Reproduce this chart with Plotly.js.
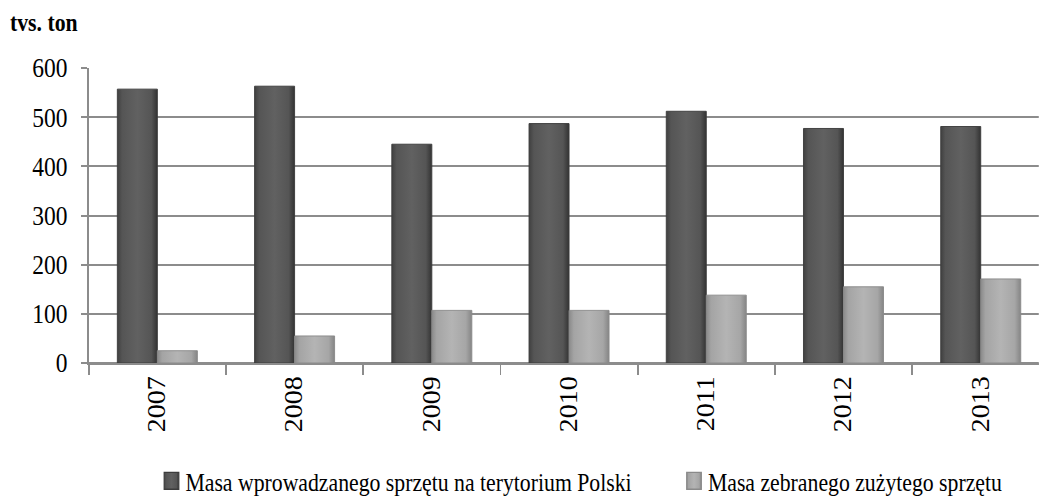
<!DOCTYPE html>
<html>
<head>
<meta charset="utf-8">
<script src="https://cdn.plot.ly/plotly-3.0.1.min.js"></script>
<style>
  html, body { margin: 0; padding: 0; background: #fff; overflow: hidden; }
  #wrap { width: 1039px; height: 498px; overflow: hidden; position: relative; }
  #chart { width: 1194px; height: 498px; transform: scaleX(0.87); transform-origin: 0 0; }
  #chart .legendpoints path { transform: translate(24px, 0) scale(1.4); }
  #chart .barlayer .trace:nth-of-type(1) .point path { fill: url(#gradDark) !important; }
  #chart .barlayer .trace:nth-of-type(2) .point path { fill: url(#gradLight) !important; }
  #chart .legend .legendpoints path { fill: url(#gradDark) !important; }
  #chart .legend2 .legendpoints path { fill: url(#gradLight) !important; }
</style>
</head>
<body>
<svg width="0" height="0" style="position:absolute">
  <defs>
    <linearGradient id="gradDark" x1="0" y1="0" x2="1" y2="0">
      <stop offset="0" stop-color="#404040"/>
      <stop offset="0.12" stop-color="#555555"/>
      <stop offset="0.5" stop-color="#616161"/>
      <stop offset="0.85" stop-color="#555555"/>
      <stop offset="1" stop-color="#333333"/>
    </linearGradient>
    <linearGradient id="gradLight" x1="0" y1="0" x2="1" y2="0">
      <stop offset="0" stop-color="#8a8a8a"/>
      <stop offset="0.12" stop-color="#a4a4a4"/>
      <stop offset="0.5" stop-color="#b4b4b4"/>
      <stop offset="0.85" stop-color="#a6a6a6"/>
      <stop offset="1" stop-color="#858585"/>
    </linearGradient>
  </defs>
</svg>
<div id="wrap"><div id="chart"></div></div>
<script>
const years = ["2007", "2008", "2009", "2010", "2011", "2012", "2013"];
const introduced = [557, 563, 445, 487, 512, 477, 481];
const collected = [25, 55, 107, 107, 138, 155, 171];
const seriesNames = ["Masa wprowadzanego sprzętu na terytorium Polski", "Masa zebranego zużytego sprzętu"];
const yTicks = [0, 100, 200, 300, 400, 500, 600];
const unitLabel = "tvs. ton";

const serif = "Times New Roman";
const gridCol = "#8c8c8c";

const traces = [
  {
    type: "bar", x: years, y: introduced, name: seriesNames[0],
    marker: { color: "#575757", line: { color: "#3c3c3c", width: 1 } },
    legend: "legend"
  },
  {
    type: "bar", x: years, y: collected, name: seriesNames[1],
    marker: { color: "#a9a9a9", line: { color: "#8a8a8a", width: 1 } },
    legend: "legend2"
  }
];

const legendBase = {
  orientation: "h", xref: "container", yref: "container",
  xanchor: "left", y: 0.034, yanchor: "middle",
  font: { family: serif, size: 25, color: "#000" },
  bgcolor: "rgba(0,0,0,0)", itemclick: false, itemdoubleclick: false
};

const layout = {
  width: 1194, height: 498,
  margin: { l: 102, r: 0, t: 68, b: 135, pad: 0 },
  paper_bgcolor: "#fff", plot_bgcolor: "#fff",
  font: { family: serif, color: "#000", size: 25 },
  barmode: "group", bargap: 0.417, bargroupgap: 0,
  title: {
    text: "<b>" + unitLabel + "</b>",
    font: { family: serif, size: 25, color: "#000" },
    xref: "container", yref: "container",
    x: 0.0096, xanchor: "left", y: 0.955, yanchor: "middle"
  },
  xaxis: {
    type: "category", range: [-0.5, 6.423],
    tickangle: -90, tickfont: { family: serif, size: 28, color: "#000" },
    ticks: "outside", tickson: "boundaries", ticklen: 10, tickwidth: 2, tickcolor: gridCol,
    showline: true, linecolor: gridCol, linewidth: 2,
    showgrid: false, zeroline: false, fixedrange: true
  },
  yaxis: {
    range: [0, 600], tickvals: yTicks, ticktext: yTicks.map(String),
    tickfont: { family: serif, size: 27, color: "#000" },
    ticks: "outside", ticklen: 7, tickwidth: 2, tickcolor: gridCol,
    ticklabelstandoff: 10,
    showline: true, linecolor: gridCol, linewidth: 2,
    showgrid: true, gridcolor: gridCol, gridwidth: 2,
    zeroline: true, zerolinecolor: gridCol, zerolinewidth: 3, fixedrange: true
  },
  showlegend: true,
  legend: Object.assign({}, legendBase, { x: 0.145 }),
  legend2: Object.assign({}, legendBase, { x: 0.648 })
};

Plotly.newPlot("chart", traces, layout, { displayModeBar: false, staticPlot: true });
</script>
</body>
</html>
